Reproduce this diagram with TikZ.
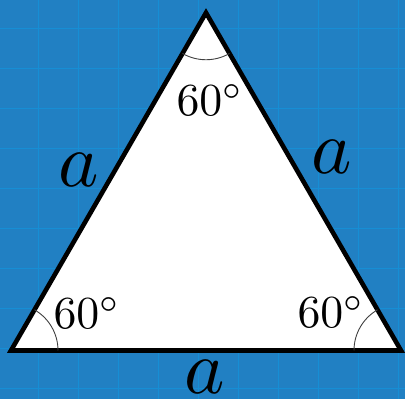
\documentclass[tikz,border=0pt]{standalone}
\usetikzlibrary{angles}
\definecolor{bgblue}{RGB}{33,128,195}
\definecolor{gridblue}{RGB}{22,142,213}
\begin{document}
\begin{tikzpicture}[x=1bp,y=1bp,
  side/.style={line width=4.6bp,line join=miter,draw=black,fill=white},
  anglearc/.style={draw=black!75,line width=0.9bp,angle radius=47bp},
  anglelbl/.style={inner sep=0pt,font=\fontsize{10}{12}\selectfont,scale=4.6},
  sidelbl/.style={inner sep=0pt,font=\fontsize{10}{12}\selectfont,scale=7.7},
  gridline/.style={draw=gridblue,line width=0.9bp}]
\fill[bgblue] (0,0) rectangle (405,399);
\useasboundingbox (0,0) rectangle (405,399);
\foreach \x in {38,78,...,398} \draw[gridline] (\x,0) -- (\x,399);
\foreach \y in {11,51,...,371} \draw[gridline] (0,\y) -- (405,\y);
\coordinate (A) at (11,48.5);
\coordinate (B) at (401,48.5);
\coordinate (C) at (206,386.25);
\draw[side] (A) -- (B) -- (C) -- cycle;
\pic[anglearc] {angle=B--A--C};
\pic[anglearc] {angle=C--B--A};
\pic[anglearc] {angle=A--C--B};
\node[anglelbl] (tC) at (210,299) {$60^\circ$};
\node[anglelbl] (tA) at (87,86) {$60^\circ$};
\node[anglelbl] (tB) at (331,87) {$60^\circ$};
\node[sidelbl] (sL) at (79,229) {$a$};
\node[sidelbl] (sR) at (332,242) {$a$};
\node[sidelbl] (sB) at (205,22) {$a$};
\end{tikzpicture}
\end{document}
